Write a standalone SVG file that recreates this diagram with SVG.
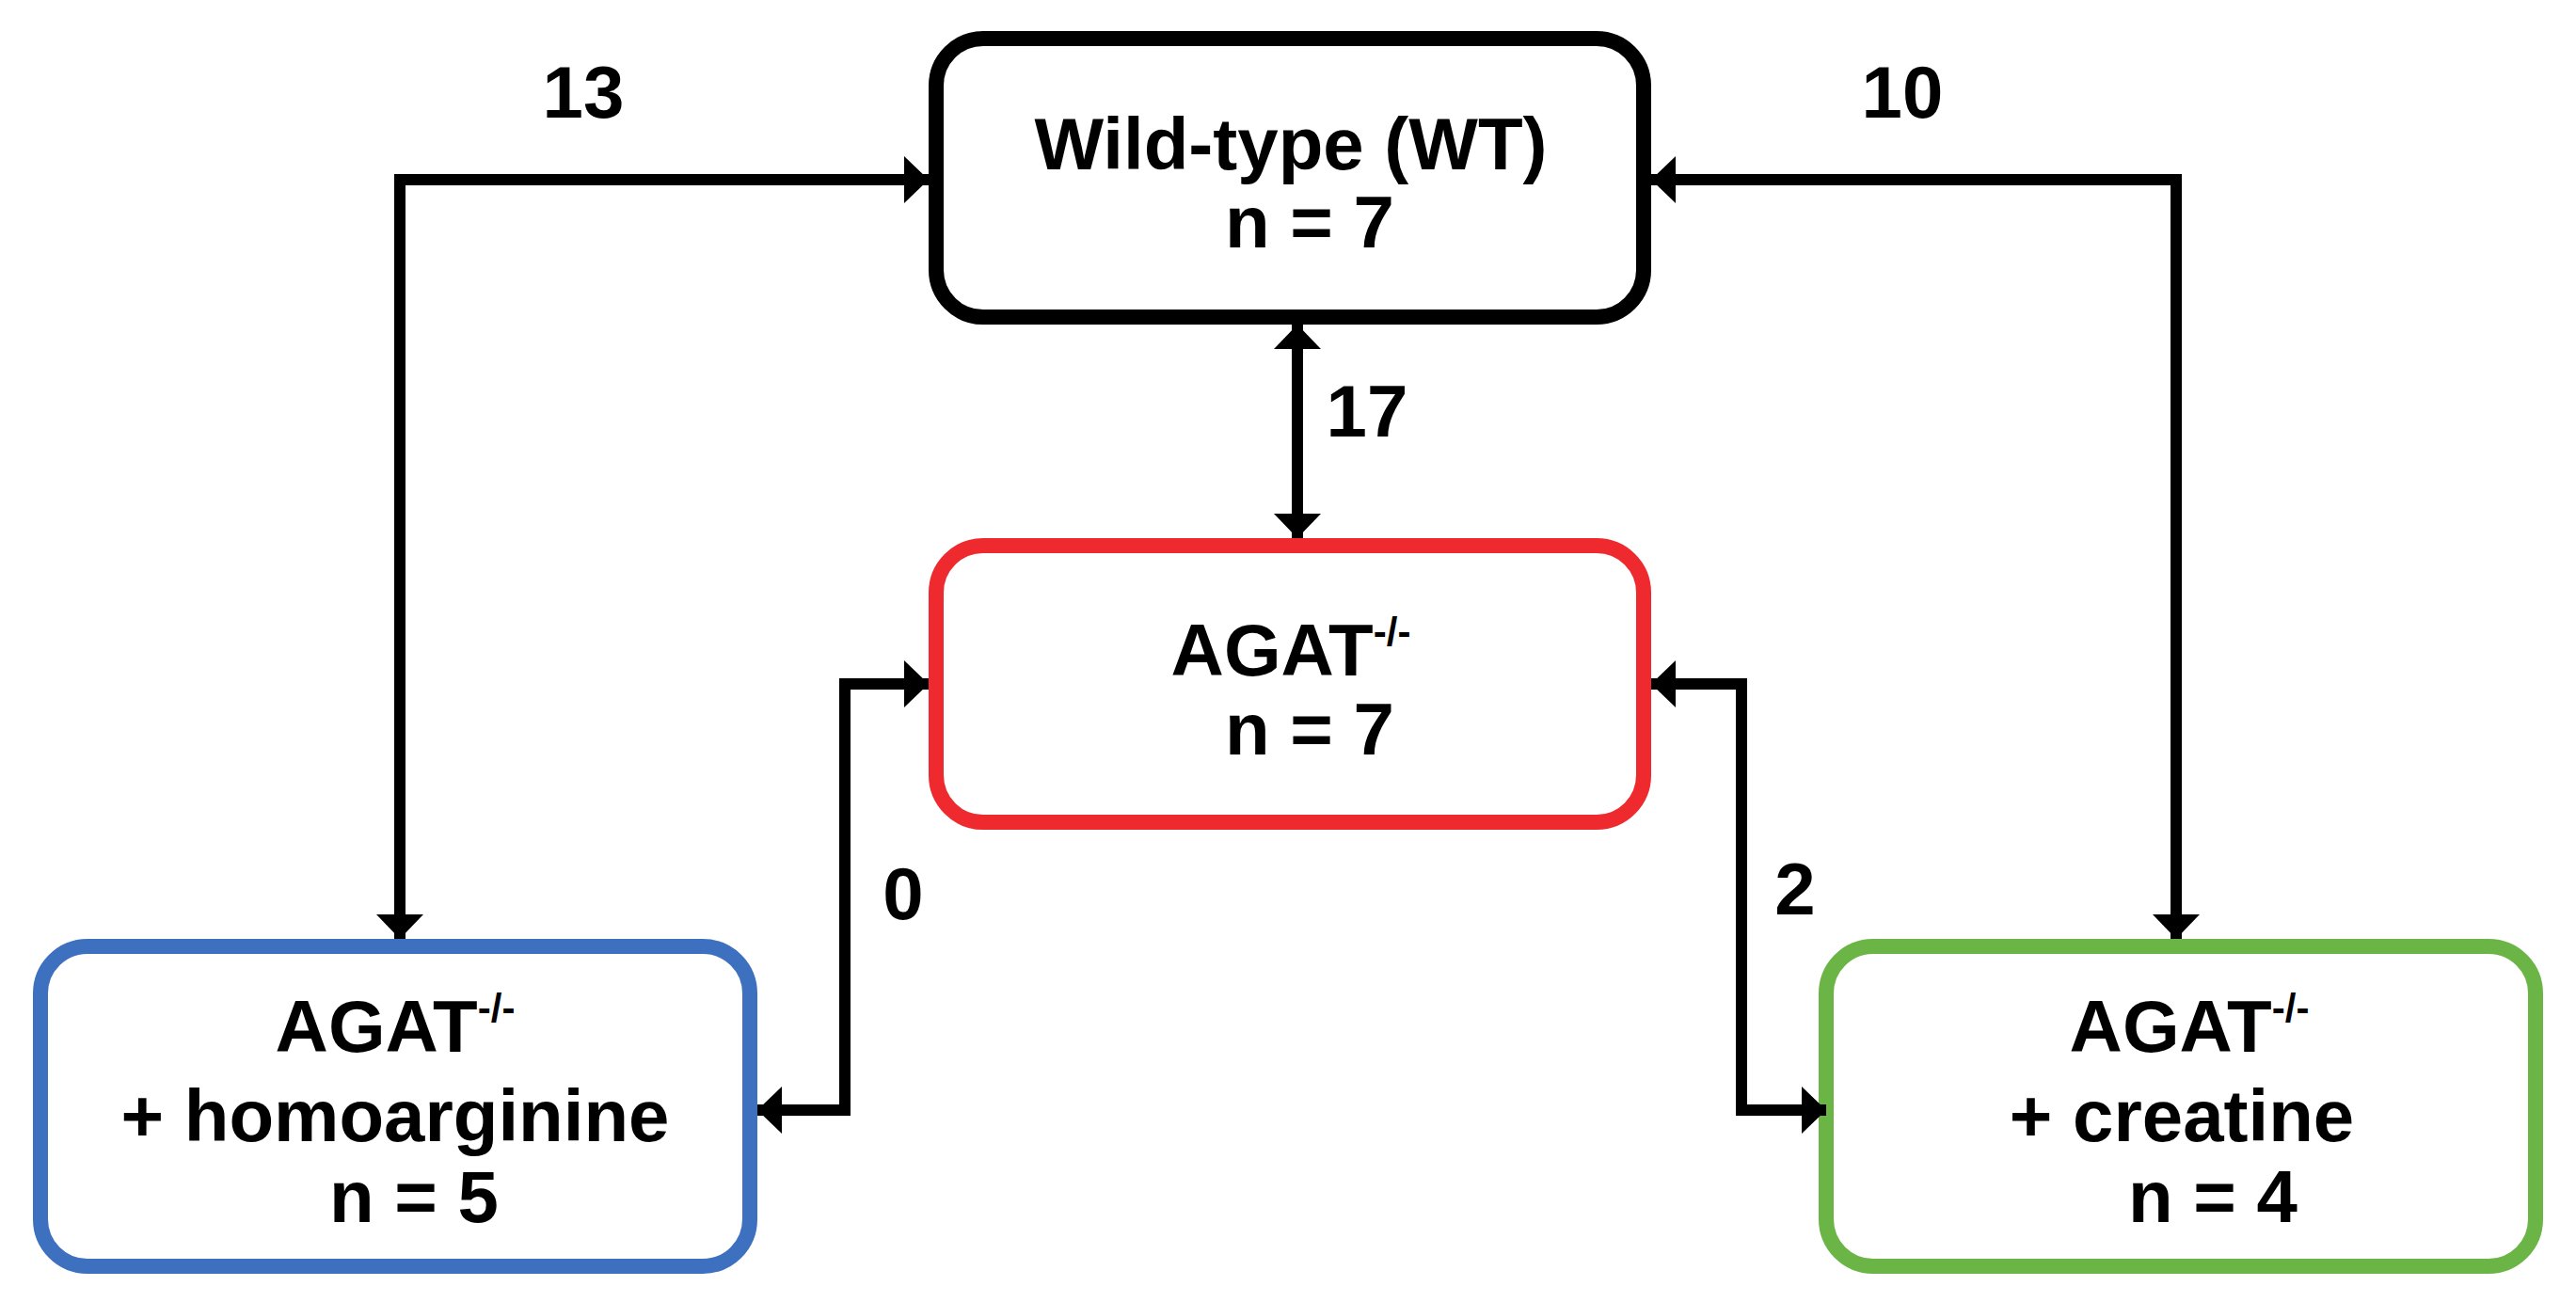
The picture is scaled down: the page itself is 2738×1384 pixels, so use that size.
<svg xmlns="http://www.w3.org/2000/svg" width="2738" height="1384" viewBox="0 0 2738 1384">
<style>
text{font-family:"Liberation Sans",Arial,sans-serif;font-weight:bold;fill:#000;text-anchor:middle}
.t{font-size:78px}
.s{font-size:42px}
.box{fill:#fff;stroke-width:16}
.c{fill:none;stroke:#000;stroke-width:12}
</style>
<defs>
<marker id="a" viewBox="0 0 26 50" refX="26" refY="25" markerWidth="26" markerHeight="50" markerUnits="userSpaceOnUse" orient="auto-start-reverse"><path d="M0,0L26,25L0,50Z" fill="#000"/></marker>
</defs>
<g id="wt"><rect class="box" x="995" y="41" width="752" height="296" rx="50" stroke="#000"/>
<text class="t" x="1372" y="180">Wild-type (WT)</text><text class="t" x="1392" y="263">n = 7</text></g>
<g id="agat"><rect class="box" x="995" y="580" width="752" height="294" rx="50" stroke="#EE2A2E"/>
<text class="t" x="1372" y="718">AGAT<tspan class="s" dy="-32">-/-</tspan></text><text class="t" x="1392" y="802">n = 7</text></g>
<g id="homo"><rect class="box" x="43" y="1006" width="754" height="340" rx="50" stroke="#3D70BF"/>
<text class="t" x="420" y="1118">AGAT<tspan class="s" dy="-32">-/-</tspan></text><text class="t" x="420" y="1213">+ homoarginine</text><text class="t" x="440" y="1299">n = 5</text></g>
<g id="crea"><rect class="box" x="1941" y="1006" width="754" height="340" rx="50" stroke="#6AB545"/>
<text class="t" x="2327" y="1118">AGAT<tspan class="s" dy="-32">-/-</tspan></text><text class="t" x="2319" y="1213">+ creatine</text><text class="t" x="2352" y="1299">n = 4</text></g>
<g id="connectors">
<path class="c" d="M987,191H425V998" marker-start="url(#a)" marker-end="url(#a)"/>
<path class="c" d="M1755,191H2313V998" marker-start="url(#a)" marker-end="url(#a)"/>
<path class="c" d="M1379,345V572" marker-start="url(#a)" marker-end="url(#a)"/>
<path class="c" d="M987,727H898V1180H805" marker-start="url(#a)" marker-end="url(#a)"/>
<path class="c" d="M1755,727H1851V1180H1941" marker-start="url(#a)" marker-end="url(#a)"/>
<text class="t" x="620" y="125">13</text>
<text class="t" x="2022" y="125">10</text>
<text class="t" x="1453" y="464">17</text>
<text class="t" x="960" y="977">0</text>
<text class="t" x="1908" y="972">2</text>
</g>
</svg>
